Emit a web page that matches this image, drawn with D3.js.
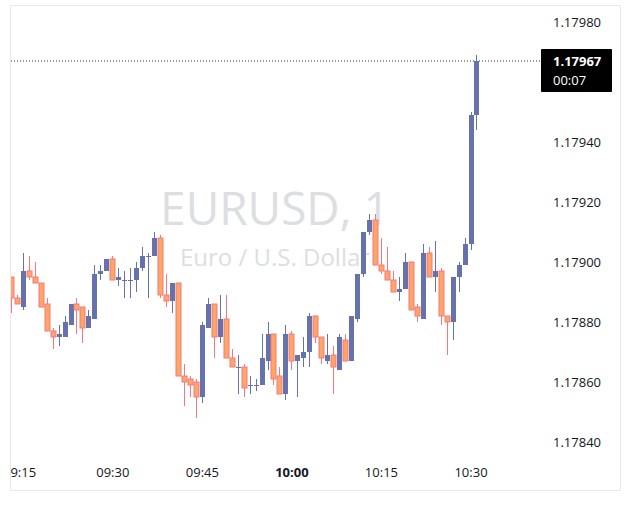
<!DOCTYPE html><html><head><meta charset="utf-8">
<script src="https://cdn.jsdelivr.net/npm/d3@7"></script>
<style>body{margin:0;background:#fff}text{font-family:"Open Sans",Roboto,sans-serif}</style></head><body>
<svg id="c" width="629" height="509"></svg>
<script>
const startMinute = 13; // 9:13
const opens  = [1.17895,1.17888,1.17885,1.17897,1.17895,1.17893,1.17886,1.17877,1.17875,1.17875,1.17879,1.17886,1.17885,1.17878,1.17881,1.17896,1.17897,1.17901,1.17894,1.17894,1.17894,1.17894,1.17898,1.17902,1.17902,1.17908,1.17889,1.17887,1.17893,1.17862,1.17861,1.17860,1.17855,1.17878,1.17886,1.17875,1.17881,1.17868,1.17865,1.17865,1.17859,1.17859,1.17859,1.17867,1.17876,1.17862,1.17856,1.17876,1.17867,1.17868,1.17870,1.17882,1.17875,1.17867,1.17869,1.17864,1.17874,1.17867,1.17881,1.17896,1.17910,1.17914,1.17899,1.17897,1.17894,1.17890,1.17891,1.17900,1.17885,1.17881,1.17903,1.17895,1.17897,1.17882,1.17880,1.17895,1.17899,1.17906,1.17949];
const highs  = [1.17895,1.17889,1.17903,1.17902,1.17900,1.17893,1.17888,1.17878,1.17879,1.17882,1.17886,1.17888,1.17885,1.17884,1.17899,1.17899,1.17901,1.17902,1.17898,1.17897,1.17898,1.17900,1.17905,1.17903,1.17910,1.17909,1.17896,1.17893,1.17893,1.17866,1.17862,1.17861,1.17880,1.17888,1.17886,1.17889,1.17889,1.17871,1.17869,1.17866,1.17862,1.17861,1.17876,1.17880,1.17876,1.17865,1.17879,1.17877,1.17869,1.17875,1.17883,1.17882,1.17875,1.17876,1.17872,1.17876,1.17876,1.17882,1.17896,1.17910,1.17916,1.17916,1.17908,1.17905,1.17897,1.17895,1.17903,1.17900,1.17886,1.17906,1.17905,1.17907,1.17898,1.17882,1.17895,1.17900,1.17908,1.17950,1.17969];
const lows   = [1.17883,1.17886,1.17884,1.17894,1.17893,1.17885,1.17877,1.17871,1.17872,1.17875,1.17879,1.17876,1.17873,1.17878,1.17881,1.17894,1.17897,1.17894,1.17892,1.17888,1.17888,1.17890,1.17897,1.17888,1.17902,1.17888,1.17885,1.17883,1.17862,1.17852,1.17855,1.17848,1.17853,1.17878,1.17868,1.17873,1.17868,1.17865,1.17856,1.17855,1.17856,1.17857,1.17859,1.17864,1.17859,1.17856,1.17854,1.17864,1.17855,1.17865,1.17865,1.17873,1.17866,1.17866,1.17856,1.17864,1.17867,1.17867,1.17880,1.17895,1.17909,1.17899,1.17896,1.17894,1.17890,1.17887,1.17891,1.17884,1.17880,1.17881,1.17895,1.17890,1.17879,1.17869,1.17874,1.17890,1.17899,1.17904,1.17944];
const closes = [1.17888,1.17886,1.17897,1.17895,1.17893,1.17885,1.17877,1.17875,1.17876,1.17880,1.17886,1.17884,1.17878,1.17882,1.17896,1.17897,1.17901,1.17894,1.17895,1.17894,1.17894,1.17898,1.17902,1.17902,1.17908,1.17889,1.17887,1.17893,1.17862,1.17860,1.17859,1.17855,1.17879,1.17886,1.17875,1.17881,1.17868,1.17865,1.17865,1.17858,1.17859,1.17859,1.17868,1.17876,1.17861,1.17856,1.17876,1.17867,1.17869,1.17870,1.17882,1.17875,1.17868,1.17869,1.17865,1.17875,1.17867,1.17882,1.17896,1.17910,1.17914,1.17899,1.17897,1.17894,1.17890,1.17891,1.17900,1.17884,1.17882,1.17903,1.17895,1.17897,1.17882,1.17880,1.17895,1.17899,1.17906,1.17949,1.17967];
const priceTicks = [1.17840,1.17860,1.17880,1.17900,1.17920,1.17940,1.17980];
const timeTicks = [15,30,45,60,75,90];
const timeLabels = ["9:15","09:30","09:45","10:00","10:15","10:30"];
const lastPrice = 1.17967, countdown = "00:07";

const svg = d3.select("#c");
const x = d3.scaleLinear().domain([30,90]).range([112.3,470.5]);
const y = d3.scaleLinear().domain([1.17840,1.17980]).range([442,22]);
const up="#6572ad", dnFill="#fda766", dnStroke="#f6787e";

svg.append("rect").attr("x",10.5).attr("y",5.5).attr("width",610).attr("height",485).attr("fill","none").attr("stroke","#e6e8ee");
svg.append("defs").append("clipPath").attr("id","pc").append("rect").attr("x",11).attr("y",6).attr("width",530).attr("height",450);

svg.append("text").attr("x",275).attr("y",225).attr("text-anchor","middle").attr("font-size",46).attr("fill","#dddee2").text("EURUSD, 1");
svg.append("text").attr("x",275).attr("y",266).attr("text-anchor","middle").attr("font-size",24).attr("fill","#dddee2").text("Euro / U.S. Dollar");

svg.append("line").attr("x1",11).attr("x2",541).attr("y1",y(lastPrice)).attr("y2",y(lastPrice)).attr("stroke","#333").attr("stroke-dasharray","1,2");

const data = opens.map((o,i)=>({m:startMinute+i,o,h:highs[i],l:lows[i],c:closes[i]}));
const g = svg.append("g").attr("clip-path","url(#pc)");
const cg = g.selectAll("g").data(data).join("g");
cg.append("line").attr("x1",d=>Math.round(x(d.m))+0.5).attr("x2",d=>Math.round(x(d.m))+0.5)
  .attr("y1",d=>y(d.h)).attr("y2",d=>y(d.l)).attr("stroke",d=>d.c>=d.o?up:dnStroke).attr("stroke-width",1);
cg.append("rect").attr("x",d=>Math.round(x(d.m))-2).attr("width",5)
  .attr("y",d=>Math.min(y(d.o),y(d.c))).attr("height",d=>Math.max(1,Math.abs(y(d.o)-y(d.c))))
  .attr("fill",d=>d.c>=d.o?up:dnFill).attr("stroke",d=>d.c>=d.o?up:dnStroke).attr("stroke-width",d=>d.c>=d.o?0:1);

const ya = svg.append("g").attr("transform","translate(541,0)")
  .call(d3.axisRight(y).tickValues(priceTicks).tickFormat(d3.format(".5f")).tickSize(0).tickPadding(12));
ya.select(".domain").remove();
ya.selectAll("text").attr("font-size",13).attr("fill","#131722");

const xa = svg.append("g").attr("transform","translate(0,462)")
  .call(d3.axisBottom(x).tickValues(timeTicks).tickFormat((d,i)=>timeLabels[i]).tickSize(0).tickPadding(6));
xa.select(".domain").remove();
xa.selectAll("text").attr("font-size",13).attr("fill","#131722").attr("font-weight",(d)=>d===60?"bold":"normal");

const ly=y(lastPrice);
svg.append("rect").attr("x",541).attr("y",ly-12).attr("width",71).attr("height",43).attr("fill","#000").attr("rx",1);
svg.append("text").attr("x",553).attr("y",ly+5).attr("font-size",13).attr("font-weight","bold").attr("fill","#fff").text(d3.format(".5f")(lastPrice));
svg.append("text").attr("x",553).attr("y",ly+24).attr("font-size",13).attr("fill","#fff").text(countdown);
</script></body></html>
